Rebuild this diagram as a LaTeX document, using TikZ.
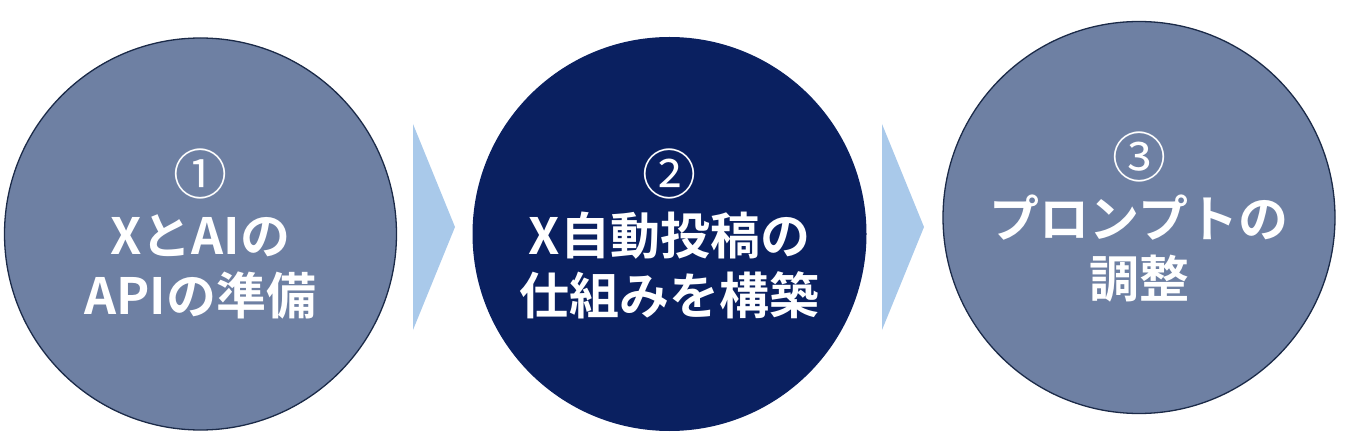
\documentclass[tikz,border=0pt]{standalone}
\usepackage{fontspec}
\newfontfamily\jpfont{Noto Sans CJK JP}[BoldFont={Noto Sans CJK JP Bold}]

\definecolor{stepslate}{HTML}{6E80A3}
\definecolor{stepnavy}{HTML}{0A2060}
\definecolor{rimnavy}{HTML}{1B2A48}
\definecolor{chevronblue}{HTML}{A9C9EA}

\tikzset{
    stepcircle/.style={circle, minimum size=392pt, inner sep=0pt, align=center,
        text=white, font=\jpfont\bfseries\fontsize{50}{60}\selectfont},
    chevron/.style={fill=chevronblue}
}
\newcommand{\stepnum}[1]{{\mdseries\fontsize{54}{60}\selectfont #1}}

\begin{document}
\begin{tikzpicture}[x=1pt,y=1pt]
        \useasboundingbox (0,0) rectangle (1346,442);
        \node [stepcircle, fill=stepslate, draw=rimnavy, line width=1.3pt] (S1) at (200.5,208) {\stepnum{①}\\XとAIの\\APIの準備};
        \node [stepcircle, fill=stepnavy, minimum size=394pt] (S2) at (669.5,208) {\stepnum{②}\\X自動投稿の\\仕組みを構築};
        \node [stepcircle, fill=stepslate, draw=rimnavy, line width=1.3pt] (S3) at (1139,224.5) {\stepnum{③}\\プロンプトの\\調整};
        % chevrons between the steps
        \fill [chevron] (413,112) -- (413,318) -- (455,215) -- cycle;
        \fill [chevron] (882,112) -- (882,318) -- (924,215) -- cycle;
    \end{tikzpicture}
\end{document}
